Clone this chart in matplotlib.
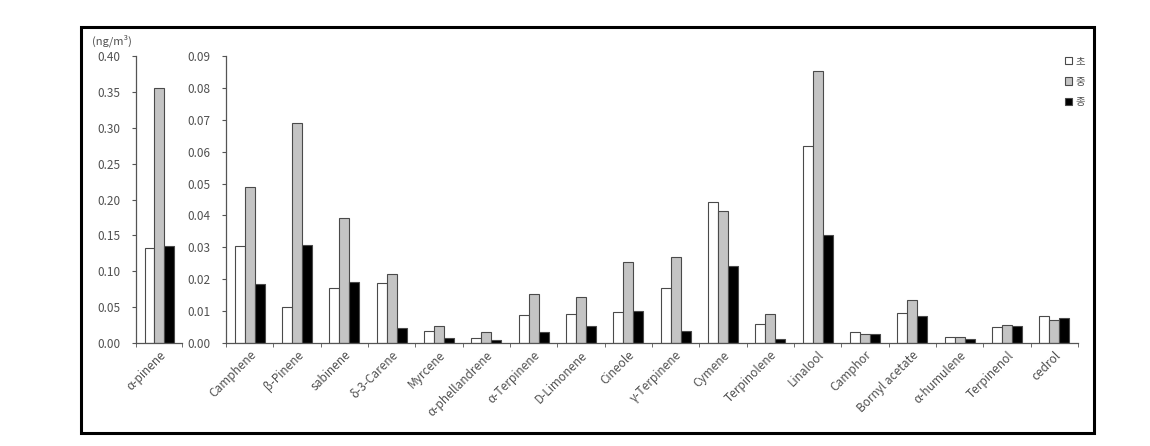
"""
Phytoncide (terpene) concentrations by compound, grouped bars, two y scales.
"""

import matplotlib
matplotlib.use('Agg')
import matplotlib.pyplot as plt
from matplotlib.patches import Rectangle, Patch
import numpy as np

plt.rcParams['font.family'] = ['Noto Sans CJK KR', 'DejaVu Sans']
plt.rcParams['font.size'] = 8.5

# data (ng/m³)
series_labels = ['초', '중', '종']

big_compound = ['α-pinene']
big_values = [
    [0.133],   # 초
    [0.356],   # 중
    [0.135],   # 종
]

compounds = ['Camphene', 'β-Pinene', 'sabinene', 'δ-3-Carene', 'Myrcene',
             'α-phellandrene', 'α-Terpinene', 'D-Limonene', 'Cineole',
             'γ-Terpinene', 'Cymene', 'Terpinolene', 'Linalool', 'Camphor',
             'Bornyl acetate', 'α-humulene', 'Terpinenol', 'cedrol']
values_early = [0.0304, 0.0112, 0.0173, 0.0189, 0.0038, 0.0017, 0.0088, 0.0091,
                0.0096, 0.0173, 0.0443, 0.0060, 0.0619, 0.0036, 0.0095, 0.0020,
                0.0051, 0.0085]
values_mid = [0.0490, 0.0689, 0.0393, 0.0216, 0.0053, 0.0034, 0.0153, 0.0145,
              0.0255, 0.0271, 0.0413, 0.0091, 0.0854, 0.0028, 0.0135, 0.0020,
              0.0056, 0.0072]
values_late = [0.0185, 0.0307, 0.0192, 0.0046, 0.0017, 0.0009, 0.0036, 0.0053,
               0.0100, 0.0038, 0.0243, 0.0013, 0.0339, 0.0028, 0.0085, 0.0013,
               0.0053, 0.0079]

big_ticks = [0.00, 0.05, 0.10, 0.15, 0.20, 0.25, 0.30, 0.35, 0.40]
small_ticks = [0.00, 0.01, 0.02, 0.03, 0.04, 0.05, 0.06, 0.07, 0.08, 0.09]

FACES = ['#FFFFFF', '#C4C4C4', '#000000']
EDGE = '#4A4A4A'
TEXT = '#505050'


def style_axis(ax, n, yticks):
    ax.set_xlim(0, n)
    ax.set_ylim(0, yticks[-1])
    ax.set_yticks(yticks)
    ax.set_yticklabels([f'{t:.2f}' for t in yticks])
    ax.spines['top'].set_visible(False)
    ax.spines['right'].set_visible(False)
    for s in ('left', 'bottom'):
        ax.spines[s].set_color('#555555')
        ax.spines[s].set_linewidth(0.9)
    ax.set_xticks(np.arange(n) + 0.5)
    ax.set_xticks(np.arange(n + 1), minor=True)
    ax.tick_params(axis='x', which='major', length=0, pad=4, colors=TEXT)
    ax.tick_params(axis='x', which='minor', length=3, color='#555555')
    ax.tick_params(axis='y', length=3, color='#555555', colors=TEXT, pad=8)


def draw_groups(ax, series, names):
    x = np.arange(len(names)) + 0.5
    w = 0.21
    for i, vals in enumerate(series):
        ax.bar(x + (i - 1) * w, vals, width=w, color=FACES[i],
               edgecolor=EDGE, linewidth=0.8)
    ax.set_xticklabels(names, rotation=45, ha='right', rotation_mode='anchor')


fig = plt.figure(figsize=(11.5, 4.46), dpi=100)

ax1 = fig.add_axes([0.1183, 0.2309, 0.040, 0.6435])
style_axis(ax1, 1, big_ticks)
draw_groups(ax1, big_values, big_compound)

ax2 = fig.add_axes([0.1965, 0.2309, 0.7409, 0.6435])
style_axis(ax2, len(compounds), small_ticks)
draw_groups(ax2, [values_early, values_mid, values_late], compounds)

fig.text(0.080, 0.908, '(ng/m³)', fontsize=8, color=TEXT, ha='left', va='center')

handles = [Patch(facecolor=FACES[i], edgecolor=EDGE, linewidth=0.8)
           for i in range(3)]
fig.legend(handles, series_labels, loc='upper left',
           bbox_to_anchor=(0.918, 0.895), frameon=False,
           handlelength=0.7, handleheight=0.7, handletextpad=0.3,
           labelspacing=1.0, fontsize=7.5, labelcolor=TEXT)

# outer frame around the whole chart
fig.patches.append(Rectangle((0.0704, 0.0291), 0.881, 0.910,
                             transform=fig.transFigure, fill=False,
                             edgecolor='black', linewidth=2.2))

fig.savefig('out.png', dpi=100, facecolor='white')
